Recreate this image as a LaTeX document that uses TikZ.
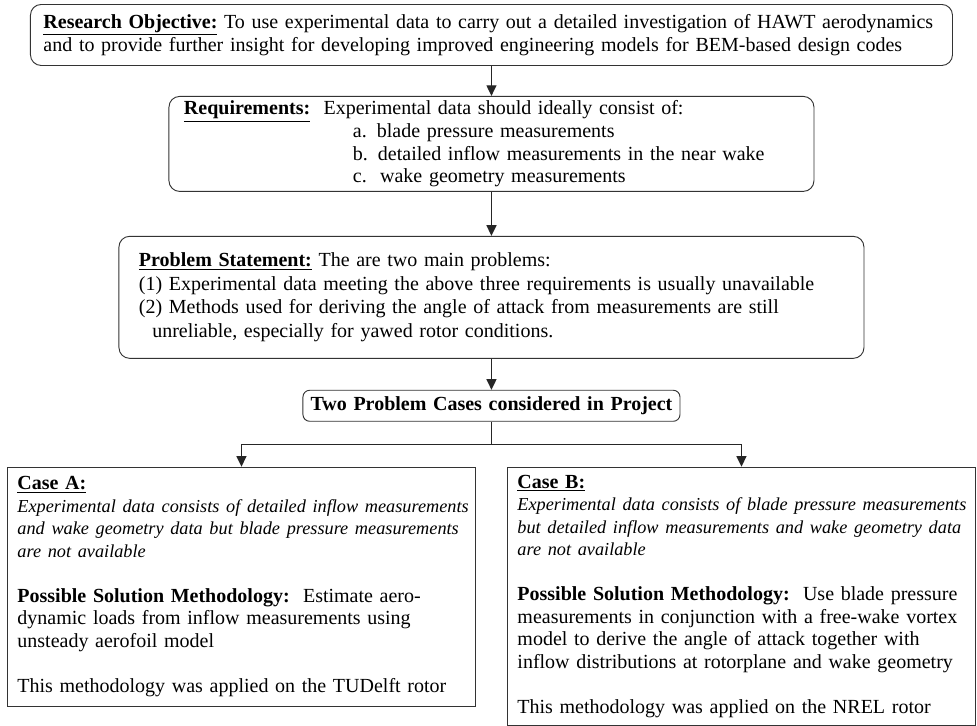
\documentclass[tikz,border=0pt]{standalone}
\usepackage{fontspec}
\setmainfont{Liberation Serif}
\usetikzlibrary{calc,positioning,arrows.meta}
\newcommand{\casenote}[1]{\mbox{\fontsize{13.7}{16.9}\selectfont\itshape #1}}
\tikzset{
    stage/.style = {
        draw = black!80,
        line width = 0.7pt,
        rounded corners = 8pt,
        align = left,
        inner ysep = 0pt,
        font = \fontsize{15}{16.9}\selectfont,
        },
    casebox/.style = {
        draw = black!80,
        line width = 0.7pt,
        align = left,
        inner xsep = 7.5pt,
        inner ysep = 0pt,
        text width = 336pt,
        font = \fontsize{15}{16.9}\selectfont,
        },
    flow/.style = {
        draw = black!85,
        line width = 1pt,
        },
    flow arrow/.style = {
        flow,
        -{Triangle[length=8pt,width=7.5pt]},
        },
}

\begin{document}
\begin{tikzpicture}
            \node[stage, inner xsep=9.75pt, text width=672pt, minimum height=45.75pt] (obj) at (0,0)
                {\underline{\textbf{Research Objective:}} To use experimental data to carry out a detailed investigation of HAWT aerodynamics\\
                 and to provide further insight for developing improved engineering models for BEM-based design codes};
            \node[stage, below=22.5pt of obj, inner xsep=11.25pt, text width=461.25pt, minimum height=71.25pt] (req)
                {\underline{\textbf{Requirements:}}\ \ Experimental data should ideally consist of:\\
                 \hspace*{126.75pt}a. blade pressure measurements\\
                 \hspace*{126.75pt}b. detailed inflow measurements in the near wake\\
                 \hspace*{126.75pt}c.\ \ wake geometry measurements};
            \node[stage, below=33pt of req, inner xsep=15pt, text width=528.75pt, minimum height=91.5pt,
                  font=\fontsize{15}{17.6}\selectfont] (prob)
                {\underline{\textbf{Problem Statement:}} The are two main problems:\\
                 (1) Experimental data meeting the above three requirements is usually unavailable\\
                 (2) Methods used for deriving the angle of attack from measurements are still\\
                 \hspace*{10pt}unreliable, especially for yawed rotor conditions.};
            \node[stage, below=23.25pt of prob, rounded corners=5pt, align=center, inner xsep=0pt,
                  text width=282.75pt, minimum height=23.25pt] (two)
                {\textbf{Two Problem Cases considered in Project}};
            \node[casebox, below=33.75pt of two, xshift=-187.5pt, minimum height=179.25pt] (caseA)
                {\underline{\textbf{Case A:}}\\
                 \casenote{Experimental data consists of detailed inflow measurements}\\
                 \casenote{and wake geometry data but blade pressure measurements}\\
                 \casenote{are not available}\\[16.9pt]
                 \textbf{Possible Solution Methodology:}\ \ Estimate aero-\\
                 dynamic loads from inflow measurements using\\
                 unsteady aerofoil model\\[16.9pt]
                 This methodology was applied on the TUDelft rotor};
            \node[casebox, below=33.75pt of two, xshift=187.5pt, minimum height=193.5pt] (caseB)
                {\underline{\textbf{Case B:}}\\
                 \casenote{Experimental data consists of blade pressure measurements}\\
                 \casenote{but detailed inflow measurements and wake geometry data}\\
                 \casenote{are not available}\\[16.9pt]
                 \textbf{Possible Solution Methodology:}\ \ Use blade pressure\\
                 measurements in conjunction with a free-wake vortex\\
                 model to derive the angle of attack together with\\
                 inflow distributions at rotorplane and wake geometry\\[16.9pt]
                 This methodology was applied on the NREL rotor};

            \draw[flow arrow] (obj) -- (req);
            \draw[flow arrow] (req) -- (prob);
            \draw[flow arrow] (prob) -- (two);
            \draw[flow] (two.south) -- ++(0,-17.25pt) coordinate (split);
            \draw[flow arrow] (split) -| (caseA.north);
            \draw[flow arrow] (split) -| (caseB.north);

            \useasboundingbox ($(obj.north west)+(-22.5pt,3pt)$) rectangle ++(732.75pt,-542.25pt);
\end{tikzpicture}
\end{document}
